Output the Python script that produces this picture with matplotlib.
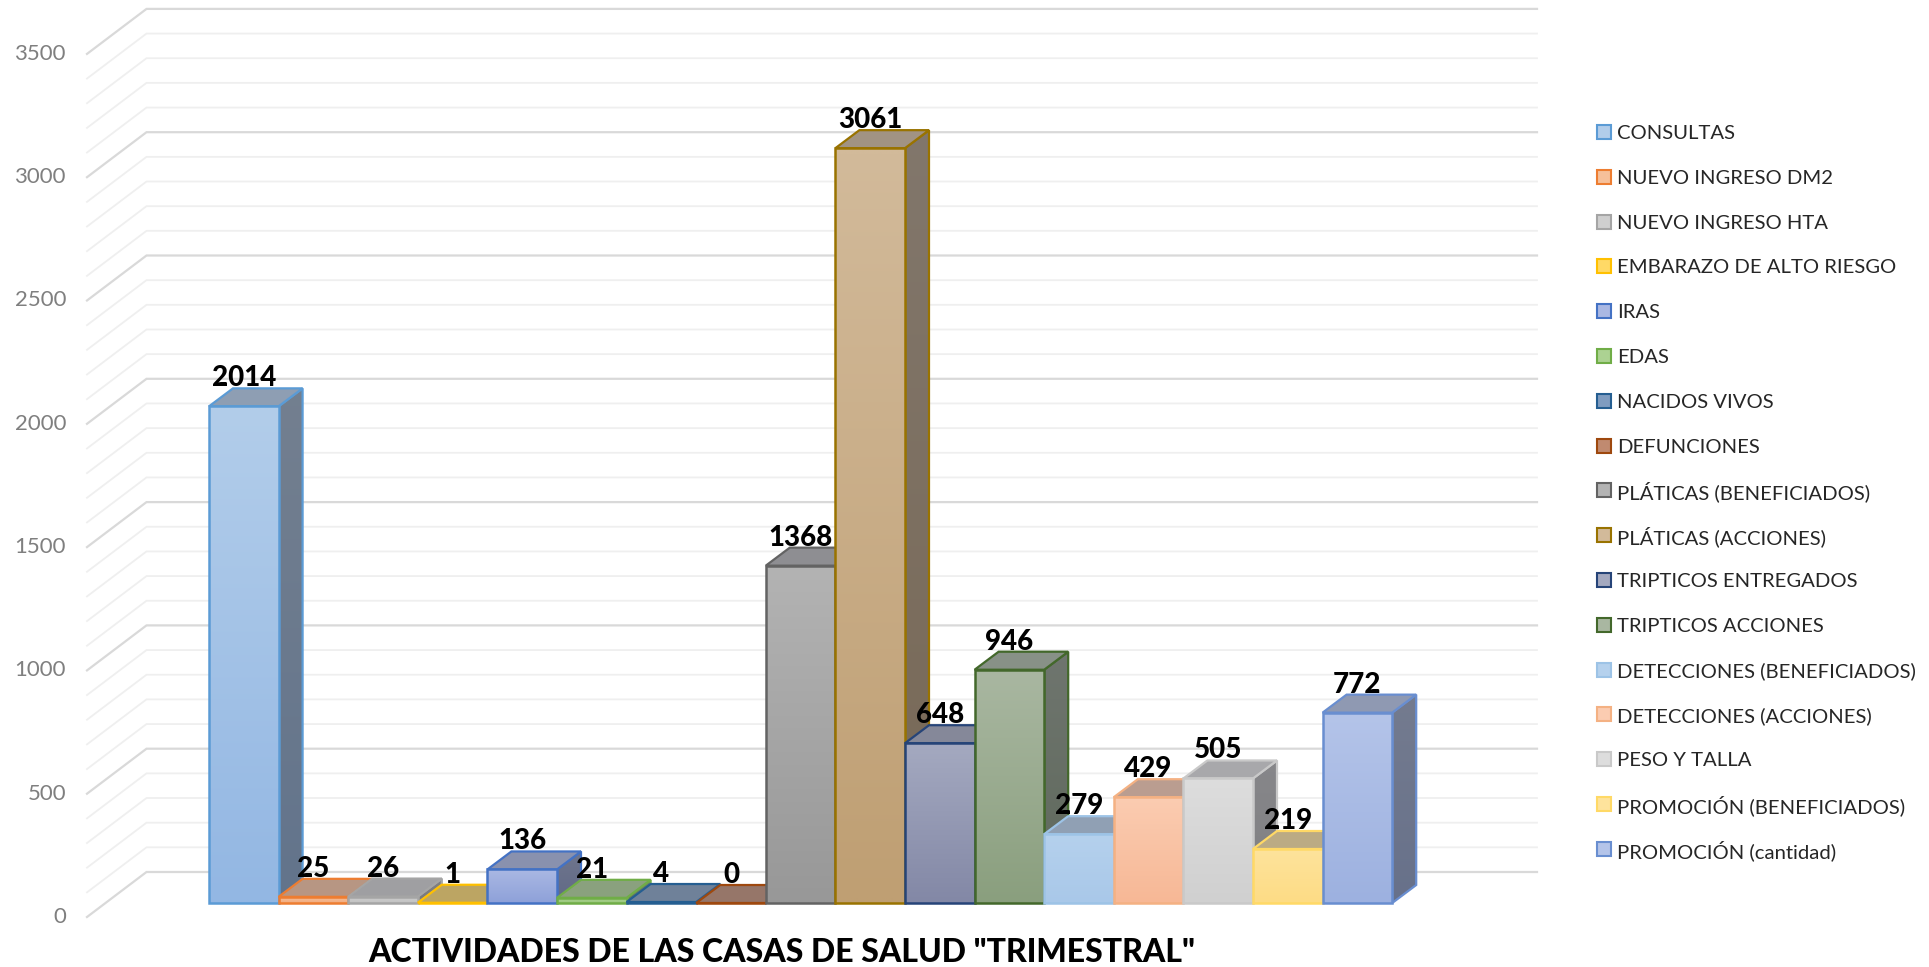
import numpy as np
import matplotlib
matplotlib.use('Agg')
import matplotlib.pyplot as plt
from matplotlib.patches import Polygon, Rectangle
from matplotlib.colors import to_rgb

plt.rcParams['font.family'] = ['Lato', 'DejaVu Sans']

# activities (quarterly totals)
categories = ['CONSULTAS', 'NUEVO INGRESO DM2', 'NUEVO INGRESO HTA', 'EMBARAZO DE ALTO RIESGO',
              'IRAS', 'EDAS', 'NACIDOS VIVOS', 'DEFUNCIONES', 'PLÁTICAS (BENEFICIADOS)',
              'PLÁTICAS (ACCIONES)', 'TRIPTICOS ENTREGADOS', 'TRIPTICOS ACCIONES',
              'DETECCIONES (BENEFICIADOS)', 'DETECCIONES (ACCIONES)', 'PESO Y TALLA',
              'PROMOCIÓN (BENEFICIADOS)', 'PROMOCIÓN (cantidad)']
values = [2014, 25, 26, 1, 136, 21, 4, 0, 1368, 3061, 648, 946, 279, 429, 505, 219, 772]

edge_colors = ['#5b9bd5', '#ed7d31', '#a5a5a5', '#ffc000', '#4472c4', '#70ad47', '#255e91',
               '#9e480e', '#636363', '#997300', '#264478', '#43682b', '#9dc3e6', '#f4b183',
               '#c9c9c9', '#ffd966', '#698ed0']
face_top = ['#b2cdea', '#f6c09a', '#cfcfcf', '#ffd966', '#aab8e3', '#acd292', '#7f9cc0',
            '#c08a70', '#b3b3b3', '#d2ba9a', '#a4a9c0', '#a9b7a1', '#b5d1ed', '#fbccb1',
            '#dddddd', '#fee39c', '#b4c4e9']
face_bottom = ['#93b7e3', '#f2ad80', '#c2c2c2', '#ffd24d', '#8ea1d9', '#9ac87c', '#6f8db5',
               '#b07a60', '#989898', '#bf9f73', '#8388a6', '#8a9f7e', '#a9c8e9', '#f7b896',
               '#d0d0d0', '#fddc85', '#9db1e0']

y_ticks = [0, 500, 1000, 1500, 2000, 2500, 3000, 3500]
title = 'ACTIVIDADES DE LAS CASAS DE SALUD "TRIMESTRAL"'

# pixel layout of the projected box
W, H = 1929, 967
PX_BAR = 69.6      # px per category
PX_UNIT = 0.2466   # px per value unit
X0, Y0 = 209, 903  # front-left corner of first bar

DEPTH_X, DEPTH_Y = 24 / PX_BAR, 18 / PX_UNIT          # bar depth
WALL_X0, WALL_X1 = (146.5 - X0) / PX_BAR, (1537 - X0) / PX_BAR
WALL_DY = 31 / PX_UNIT
SIDE_X, SIDE_DY = (87 - X0) / PX_BAR, -14 / PX_UNIT

fig = plt.figure(figsize=(W / 100, H / 100), dpi=100)
ax = fig.add_axes([0, 0, 1, 1])
ax.set_axis_off()


def shade(c, f, gray=0.0):
    c = np.array(to_rgb(c)) * f
    return tuple(np.clip(c * (1 - gray) + np.array([0.55, 0.55, 0.6]) * gray, 0, 1))


def grad_face(xy, c_top, c_bot, z):
    xy = np.asarray(xy, dtype=float)
    poly = Polygon(xy, closed=True, facecolor='none', edgecolor='none', zorder=z)
    ax.add_patch(poly)
    if np.ptp(xy[:, 1]) <= 0:
        return
    t = np.linspace(0, 1, 64)[:, None]
    img = (1 - t) * np.array(to_rgb(c_bot)) + t * np.array(to_rgb(c_top))
    img = np.repeat(img[:, None, :], 2, axis=1)
    im = ax.imshow(img, extent=(xy[:, 0].min(), xy[:, 0].max(), xy[:, 1].min(), xy[:, 1].max()),
                   origin='lower', aspect='auto', interpolation='bilinear', zorder=z)
    im.set_clip_path(poly)


# walls: horizontal gridlines on the back wall, diagonals on the side wall
for v in range(0, 3501, 100):
    major = v % 500 == 0
    ax.plot([SIDE_X, WALL_X0, WALL_X1], [v + SIDE_DY, v + WALL_DY, v + WALL_DY],
            color='#d9d9d9' if major else '#efefef', lw=1.6 if major else 1.3,
            solid_joinstyle='miter', zorder=1)

for v in y_ticks:
    ax.text(SIDE_X - 21 / PX_BAR, v + SIDE_DY, str(v), ha='right', va='center',
            fontsize=16, color='#7f7f7f')

# 3d bars, left to right so each bar covers the side of the previous one
for i, v in enumerate(values):
    z = 10 + 5 * i
    x0, x1 = i, i + 1
    ec = edge_colors[i]
    side = [(x1, 0), (x1 + DEPTH_X, DEPTH_Y), (x1 + DEPTH_X, v + DEPTH_Y), (x1, v)]
    top = [(x0, v), (x1, v), (x1 + DEPTH_X, v + DEPTH_Y), (x0 + DEPTH_X, v + DEPTH_Y)]
    front = [(x0, 0), (x1, 0), (x1, v), (x0, v)]

    grad_face(side, shade(face_top[i], 0.6, 0.25), shade(face_bottom[i], 0.6, 0.2), z)
    ax.add_patch(Polygon(side, closed=True, fill=False, edgecolor=ec, lw=1.6, zorder=z + 0.5))
    ax.add_patch(Polygon(top, closed=True, facecolor=shade(face_top[i], 0.8, 0.25),
                         edgecolor=ec, lw=1.6, zorder=z + 1))
    grad_face(front, face_top[i], face_bottom[i], z + 2)
    ax.add_patch(Polygon(front, closed=True, fill=False, edgecolor=ec, lw=1.8, zorder=z + 3))

    ax.text(i + 0.5, v + DEPTH_Y + 8, str(v), ha='center', va='baseline',
            fontsize=20, fontweight='black', color='black', zorder=200)

ax.text((782 - X0) / PX_BAR, -(953 - Y0) / PX_UNIT, title, ha='center', va='center',
        fontsize=23, fontweight='black', color='black')

# legend column on the right, fixed row pitch
LEG_X, LEG_Y, LEG_STEP, BOX = 1597, 132, 44.8, 14
for i, name in enumerate(categories):
    yc = LEG_Y + i * LEG_STEP
    fig.patches.append(Rectangle((LEG_X / W, 1 - (yc + BOX / 2) / H), BOX / W, BOX / H,
                                 transform=fig.transFigure, facecolor=face_top[i],
                                 edgecolor=edge_colors[i], lw=1.5))
    fig.text((LEG_X + BOX + 6) / W, 1 - yc / H, name, ha='left', va='center_baseline',
             fontsize=14.6, color='#262626')

ax.set_xlim(-X0 / PX_BAR, (W - X0) / PX_BAR)
ax.set_ylim(-(H - Y0) / PX_UNIT, Y0 / PX_UNIT)

fig.savefig('out.png', dpi=100, facecolor='white')
